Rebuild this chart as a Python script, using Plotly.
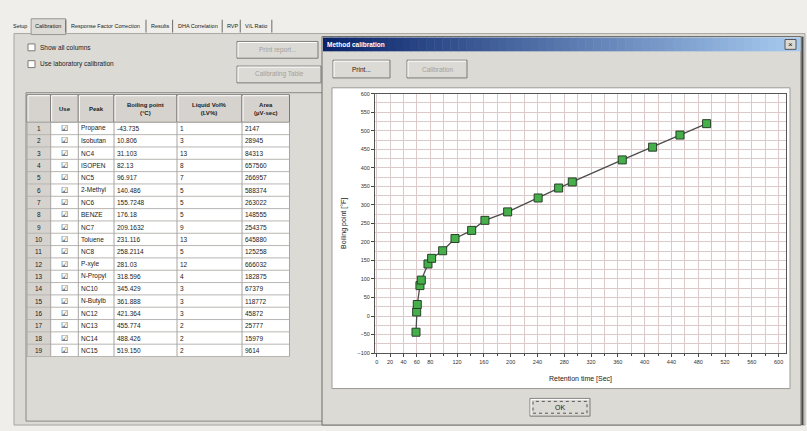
import plotly.graph_objects as go

W, H = 807, 431
FONT = "Liberation Sans"

# ---------------- data ----------------
row_numbers = [str(i) for i in range(1, 20)]
peak_names = ["Propane", "Isobutan", "NC4", "ISOPEN", "NC5", "2-Methyl", "NC6", "BENZE",
              "NC7", "Toluene", "NC8", "P-xyle", "N-Propyl", "NC10", "N-Butylb", "NC12",
              "NC13", "NC14", "NC15"]
boiling_point_labels = ["-43.735", "10.806", "31.103", "82.13", "96.917", "140.486", "155.7248",
                        "176.18", "209.1632", "231.116", "258.2114", "281.03", "318.596",
                        "345.429", "361.888", "421.364", "455.774", "488.426", "519.150"]
liquid_vol_pct = ["1", "3", "13", "8", "7", "5", "5", "5", "9", "13", "5", "12", "4", "3",
                  "3", "3", "2", "2", "2"]
area_uv_sec = ["2147", "28945", "84313", "657560", "266957", "588374", "263022", "148555",
               "254375", "645880", "125258", "666032", "182875", "67379", "118772", "45872",
               "25777", "15979", "9614"]
retention_time_sec = [58.7, 59.7, 60.6, 64.6, 66.6, 76.6, 82.0, 98.5, 116.9, 141.8, 161.6,
                      195.5, 241.0, 271.6, 292.0, 366.6, 411.9, 452.7, 492.5]
x_tick_values = [0, 20, 40, 60, 80, 120, 160, 200, 240, 280, 320, 360, 400, 440, 480, 520, 560, 600]
y_tick_values = [-100, -50, 0, 50, 100, 150, 200, 250, 300, 350, 400, 450, 500, 550, 600]
tab_labels = ["Setup", "Calibration", "Response Factor Correction", "Results",
              "DHA Correlation", "RVP", "V/L Ratio"]
table_headers = ["", "<b>Use</b>", "<b>Peak</b>", "<b>Boiling point</b><br><b>(°C)</b>",
                 "<b>Liquid Vol%</b><br><b>(LV%)</b>", "<b>Area</b><br><b>(µV·sec)</b>"]

boiling_point_f = [float(v) for v in boiling_point_labels]

# ---------------- helpers ----------------
def X(px):
    return px / W


def Y(py):
    return 1 - py / H


shapes = []
annotations = []


def rect(x0, y0, x1, y1, fill, line=None, lw=1, layer="below"):
    shapes.append(dict(type="rect", xref="paper", yref="paper",
                       x0=X(x0), x1=X(x1), y0=Y(y1), y1=Y(y0),
                       fillcolor=fill, layer=layer,
                       line=dict(color=line if line else fill, width=lw if line else 0)))


def seg(x0, y0, x1, y1, color, lw=1, layer="below"):
    shapes.append(dict(type="line", xref="paper", yref="paper",
                       x0=X(x0), x1=X(x1), y0=Y(y0), y1=Y(y1), layer=layer,
                       line=dict(color=color, width=lw)))


def text(x, y, s, size=6.5, color="#1a1a1a", anchor="left", angle=0):
    annotations.append(dict(xref="paper", yref="paper", x=X(x), y=Y(y), text=s,
                            showarrow=False, xanchor=anchor, yanchor="middle",
                            textangle=angle, borderpad=0,
                            font=dict(size=size, color=color, family=FONT)))


def button(x0, y0, x1, y1, label, enabled=True, size=6.5):
    rect(x0, y0, x1, y1, "#dcdad5", "#7d7b77", 1)
    seg(x0 + 1, y0 + 1, x1 - 1, y0 + 1, "#ffffff", 1)
    seg(x0 + 1, y0 + 1, x0 + 1, y1 - 1, "#ffffff", 1)
    text((x0 + x1) / 2, (y0 + y1) / 2, label, size=size,
         color="#1a1a1a" if enabled else "#a3a09b", anchor="center")


def text_width(s, size):
    w = 0.0
    for ch in s:
        if ch.isupper():
            w += 0.67
        elif ch in " /|.,:;il":
            w += 0.3
        else:
            w += 0.52
    return w * size


PANEL = "#dcdad5"

# main tab panel
rect(14, 31, 805, 428, PANEL, "#a8a6a1", 1)
# tabs (positions derived from label lengths)
TAB_SIZE = 5.5
tx = 12
for i, lbl in enumerate(tab_labels):
    w = text_width(lbl, TAB_SIZE)
    if i == 1:
        rect(tx - 3, 16, tx + w + 3, 32, PANEL, "#9a9893", 1)
    text(tx, 23.5, lbl, size=TAB_SIZE)
    tx += w + 3
    if i > 0:
        seg(tx, 17, tx, 30, "#6e6c68", 1)
    tx += 4

# checkboxes
for cy, lbl in [(45, "Show all columns"), (62, "Use laboratory calibration")]:
    rect(28, cy - 3.5, 35, cy + 3.5, "#ffffff", "#7d7b77", 1)
    text(39, cy, lbl, size=6.5)

# left buttons (disabled)
button(237, 39, 318, 56, "Print report...", enabled=False)
button(237, 64, 321, 81, "Calibrating Table", enabled=False)

# list frame around the table
rect(26, 91, 330, 424, PANEL, "#8a8884", 1)

# ---- data table drawn with shapes and text ----
col_edges = [27, 50.7, 78.3, 114, 177, 242, 289.5]
head_top, head_bot, row_h = 93, 121, 12.5
n = len(row_numbers)
table_bot = head_bot + n * row_h
rect(col_edges[0], head_top, col_edges[-1], table_bot, "#ffffff")
rect(col_edges[0], head_bot, col_edges[1], table_bot, "#d6d3ce")
for c in range(len(col_edges) - 1):
    x0, x1 = col_edges[c], col_edges[c + 1]
    rect(x0, head_top, x1, head_bot, "#d6d3ce", "#7d7b77", 1)
    seg(x0 + 1, head_top + 1, x1 - 1, head_top + 1, "#ffffff", 1)
    seg(x0 + 1, head_top + 1, x0 + 1, head_bot - 1, "#ffffff", 1)
    text((x0 + x1) / 2, (head_top + head_bot) / 2, table_headers[c], size=6, anchor="center")
for r in range(n + 1):
    yy = head_bot + r * row_h
    seg(col_edges[0], yy, col_edges[-1], yy, "#b8b6b2", 1)
for cx in col_edges:
    seg(cx, head_bot, cx, table_bot, "#a8a6a2", 1)

columns = [row_numbers, ["☑"] * n, peak_names, boiling_point_labels, liquid_vol_pct, area_uv_sec]
for c, vals in enumerate(columns):
    x0, x1 = col_edges[c], col_edges[c + 1]
    for r, v in enumerate(vals):
        yc = head_bot + (r + 0.5) * row_h
        if c in (0, 1):
            text((x0 + x1) / 2, yc, v, size=6.5 if c == 0 else 8, anchor="center",
                 color="#1a1a1a" if c == 0 else "#2a2a2a")
        else:
            text(x0 + 2, yc, v, size=6.5)

# dialog window
rect(322, 34, 801, 428, PANEL, "#6f6d69", 1)
seg(802.5, 34, 802.5, 428, "#4a4a4a", 2)
# title bar gradient
n_steps = 60
c0 = (10, 36, 106)
c1 = (166, 202, 240)
bx0, bx1 = 323, 800
for i in range(n_steps):
    t = i / (n_steps - 1)
    col = "rgb(%d,%d,%d)" % tuple(round(a + (b - a) * t) for a, b in zip(c0, c1))
    xa = bx0 + (bx1 - bx0) * i / n_steps
    xb = bx0 + (bx1 - bx0) * (i + 1) / n_steps + 0.5
    rect(xa, 35, xb, 49, col)
text(326, 42, "<b>Method calibration</b>", size=6.5, color="#ffffff")
rect(785, 37, 796, 47, PANEL, "#555555", 1)
text(790.5, 42, "×", size=8, color="#111111", anchor="center")

# dialog buttons
button(333, 58, 390, 76, "Print...")
button(407, 58, 467, 76, "Calibration", enabled=False)

# chart panel
rect(332, 86, 790, 391, "#ffffff", "#9c9a96", 1)

# axis titles
text(344, 224, "Boiling point [°F]", size=7, color="#222222", anchor="center", angle=-90)
text(580, 381, "Retention time [Sec]", size=7, color="#222222", anchor="center")

# OK button
button(530, 401, 590, 419, "OK", size=7)
shapes.append(dict(type="rect", xref="paper", yref="paper", x0=X(533), x1=X(587),
                   y0=Y(416), y1=Y(404), layer="below",
                   line=dict(color="#555555", width=1, dash="dot")))

# ---------------- figure ----------------
fig = go.Figure()

fig.add_trace(go.Scatter(
    x=retention_time_sec, y=boiling_point_f, mode="lines+markers",
    line=dict(color="#4d4d4d", width=1.3),
    marker=dict(symbol="square", size=8, color="#45b04a",
                line=dict(color="#2a3f2a", width=1)),
    hoverinfo="x+y", showlegend=False))

grid = "#dcc9c9"
fig.update_layout(
    width=W, height=H, margin=dict(l=0, r=0, t=0, b=0),
    paper_bgcolor="#efeeea", plot_bgcolor="#ffffff",
    font=dict(family=FONT, size=6, color="#333333"),
    showlegend=False, shapes=shapes, annotations=annotations,
    xaxis=dict(domain=[X(375), X(786)], range=[-2.5, 611], tickvals=x_tick_values,
               ticks="outside", ticklen=3, tickcolor="#444444", showgrid=True,
               gridcolor=grid, gridwidth=1, zeroline=False, showline=True,
               linecolor="#555555", linewidth=1, mirror=True,
               tickfont=dict(size=5.5, color="#333333"),
               minor=dict(tick0=0, dtick=20, showgrid=True, gridcolor=grid,
                          ticks="outside", ticklen=2, tickcolor="#444444")),
    yaxis=dict(domain=[Y(355), Y(92)], range=[-100, 600], tickvals=y_tick_values,
               ticks="outside", ticklen=3, tickcolor="#444444", showgrid=True,
               gridcolor=grid, gridwidth=1, zeroline=False, showline=True,
               linecolor="#555555", linewidth=1, mirror=True,
               tickfont=dict(size=5.5, color="#333333"),
               minor=dict(tick0=0, dtick=25, showgrid=True, gridcolor=grid)),
)

fig.write_html("out.html", config={"displayModeBar": False},
               post_script="document.body.style.margin='0';document.body.style.overflow='hidden';")
